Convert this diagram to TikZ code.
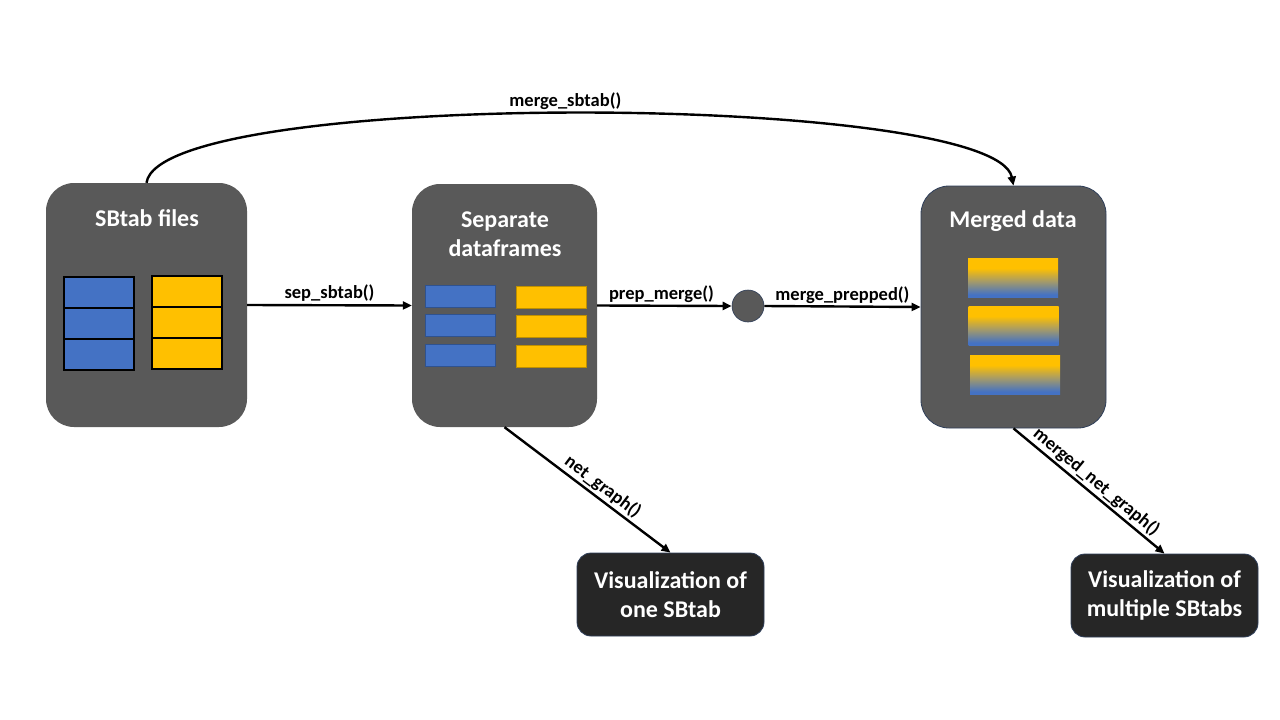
\documentclass[tikz,border=0pt]{standalone}
\usepackage{fontspec}
\setmainfont{Carlito}
\usetikzlibrary{arrows.meta}
\definecolor{boxgray}{HTML}{595959}
\definecolor{visdark}{HTML}{262626}
\definecolor{visedge}{HTML}{2F3F5A}
\definecolor{sbblue}{HTML}{4472C4}
\definecolor{sbyellow}{HTML}{FFC000}
\definecolor{blueedge}{HTML}{2F528F}
\definecolor{yellowedge}{HTML}{BF9000}
\definecolor{mixcol}{HTML}{A39A6A}
\pgfdeclareverticalshading{mergeshade}{100bp}{color(0bp)=(sbblue); color(25bp)=(sbblue); color(28bp)=(sbblue); color(45bp)=(mixcol); color(62bp)=(sbyellow); color(75bp)=(sbyellow); color(100bp)=(sbyellow)}
\tikzset{
  bigbox/.style={fill=boxgray, rounded corners=28pt, inner sep=0pt},
  visbox/.style={fill=visdark, draw=visedge, line width=0.8pt, rounded corners=14pt, inner sep=0pt, minimum width=187pt, minimum height=83pt, text=white, font=\fontsize{24}{29}\selectfont\bfseries, align=center},
  title/.style={text=white, font=\fontsize{24}{29}\selectfont\bfseries, align=center, inner sep=0pt},
  bluecell/.style={fill=sbblue, draw=black, line width=1.6pt, minimum width=70pt, minimum height=31pt, inner sep=0pt},
  yelcell/.style={fill=sbyellow, draw=black, line width=1.6pt, minimum width=70pt, minimum height=31pt, inner sep=0pt},
  bluebar/.style={fill=sbblue, draw=blueedge, line width=0.6pt, minimum width=70pt, minimum height=22pt, inner sep=0pt},
  yelbar/.style={fill=sbyellow, draw=yellowedge, line width=0.6pt, minimum width=70pt, minimum height=22pt, inner sep=0pt},
  mergebar/.style={shading=mergeshade, minimum width=90pt, minimum height=39pt, inner sep=0pt},
  conn/.style={draw=black, line width=2.4pt, -{Triangle[length=9pt,width=8pt]}},
  lab/.style={font=\fontsize{18.5}{20}\selectfont\bfseries, text=black, inner sep=2pt}
}
\begin{document}
\begin{tikzpicture}[x=1pt,y=-1pt]
\useasboundingbox[fill=white] (0,0) rectangle (1280,720);

% big boxes
\node[bigbox, minimum width=201pt, minimum height=244pt] (files) at (146.5,305) {};
\node[bigbox, minimum width=185pt, minimum height=243pt] (dfs) at (504.5,305.5) {};
\node[bigbox, draw=visedge, line width=0.8pt, minimum width=185pt, minimum height=242pt] (merged) at (1013.5,307) {};

% titles
\node[title] (t1) at (147,218) {SBtab files};
\node[title] (t2) at (505,234) {Separate\\dataframes};
\node[title] (t3) at (1013,221) {Merged data};

% SBtab files tables
\node[bluecell] (b1) at (99,292.5) {};
\node[bluecell] (b2) at (99,323.5) {};
\node[bluecell] (b3) at (99,354.5) {};
\node[yelcell] (y1) at (187,291.5) {};
\node[yelcell] (y2) at (187,322.5) {};
\node[yelcell] (y3) at (187,353.5) {};

% separate dataframes bars
\node[bluebar] (sb1) at (460,296) {};
\node[bluebar] (sb2) at (460,325) {};
\node[bluebar] (sb3) at (460,355.5) {};
\node[yelbar] (sy1) at (551,297) {};
\node[yelbar] (sy2) at (551,326) {};
\node[yelbar] (sy3) at (551,356) {};

% merged bars
\node[mergebar] (m1) at (1013,277.5) {};
\node[mergebar] (m2) at (1013.5,325.5) {};
\node[mergebar] (m3) at (1015,374.5) {};

% junction
\node[circle, fill=boxgray, draw=visedge, line width=0.6pt, minimum size=32pt, inner sep=0pt] (dot) at (748,306) {};

% visualization boxes
\node[visbox] (vis1) at (670.5,594.5) {Visualization of\\one SBtab};
\node[visbox] (vis2) at (1164.5,595.5) {Visualization of\\multiple SBtabs};

% connectors
\draw[conn] (files.east) -- node[lab, above, yshift=1pt] {sep\_sbtab()} (dfs.west);
\draw[conn] (dfs.east) -- node[lab, above, xshift=-3pt] {prep\_merge()} (dot.west);
\draw[conn] (dot.east) -- node[lab, above, yshift=0pt] {merge\_prepped()} (merged.west);
\draw[conn] (dfs.south) -- node[lab, sloped, above, pos=0.55] {net\_graph()} (vis1.north);
\draw[conn] (merged.south) -- node[lab, sloped, above, pos=0.5] {merged\_net\_graph()} (vis2.north);
\draw[conn] (files.north) .. controls (160,88) and (995,92) .. node[lab, above, pos=0.49, yshift=1pt] {merge\_sbtab()} (merged.north);
\end{tikzpicture}
\end{document}
